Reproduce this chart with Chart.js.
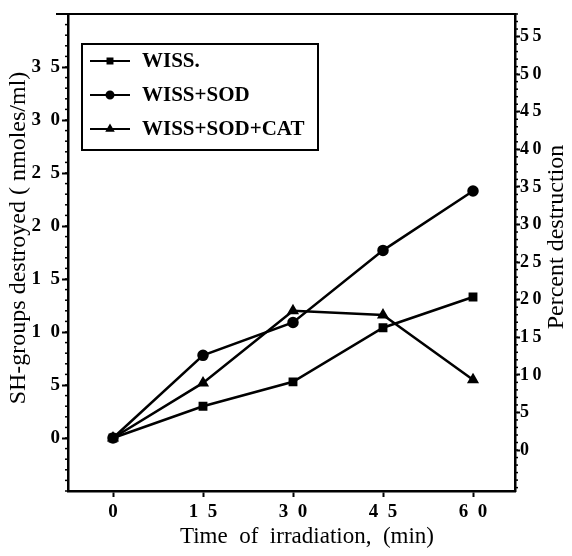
<!DOCTYPE html>
<html>
<head>
<meta charset="utf-8">
<script src="https://cdn.jsdelivr.net/npm/chart.js@4.4.1/dist/chart.umd.min.js"></script>
<style>
  html, body { margin: 0; padding: 0; background: #fff; }
  #wrap { width: 572px; height: 556px; }
</style>
</head>
<body>
<div id="wrap"><canvas id="shChart" width="572" height="556"></canvas></div>
<script>
const times = [0, 15, 30, 45, 60];
const wiss = [0, 3.0, 5.3, 10.4, 13.3];
const wissSod = [0, 7.8, 10.9, 17.7, 23.3];
const wissSodCat = [0, 5.2, 12.0, 11.6, 5.5];

const leftTicks = [0, 5, 10, 15, 20, 25, 30, 35];
const rightTicks = [0, 5, 10, 15, 20, 25, 30, 35, 40, 45, 50, 55];

const xTitle = "Time  of  irradiation,  (min)";
const leftTitle = "SH-groups destroyed ( nmoles/ml)";
const rightTitle = "Percent destruction";

const serif = "'Liberation Serif', 'DejaVu Serif', serif";

function spaced(v, gap) {
  return String(v).split("").join(gap);
}

function toPoints(arr) {
  return arr.map((v, i) => ({ x: times[i], y: v }));
}

// frame around plot, minor ticks and the axis titles
const framePlugin = {
  id: "frame",
  afterDraw(chart) {
    const ctx = chart.ctx;
    const a = chart.chartArea;
    ctx.save();
    ctx.strokeStyle = "#000";
    ctx.lineWidth = 2;
    ctx.beginPath();
    ctx.moveTo(a.left - 12, a.top);
    ctx.lineTo(a.right, a.top);
    ctx.stroke();

    ctx.lineWidth = 1.5;
    const y = chart.scales.y;
    for (let v = -5; v <= 40; v++) {
      const py = y.getPixelForValue(v);
      ctx.beginPath();
      ctx.moveTo(a.left, py);
      ctx.lineTo(a.left - 3, py);
      ctx.stroke();
    }
    const y2 = chart.scales.y2;
    for (let v = -5; v <= 58; v++) {
      const py = y2.getPixelForValue(v);
      ctx.beginPath();
      ctx.moveTo(a.right, py);
      ctx.lineTo(a.right + 3, py);
      ctx.stroke();
    }

    ctx.fillStyle = "#000";
    ctx.textAlign = "center";
    ctx.textBaseline = "middle";
    ctx.font = "23px " + serif;
    ctx.fillText(xTitle, 307, 537);

    // both vertical titles read bottom to top
    ctx.font = "24px " + serif;
    ctx.translate(19, 238);
    ctx.rotate(-Math.PI / 2);
    ctx.fillText(leftTitle, 0, 0);
    ctx.setTransform(1, 0, 0, 1, 0, 0);
    ctx.translate(557, 237);
    ctx.rotate(-Math.PI / 2);
    ctx.fillText(rightTitle, 0, 0);
    ctx.restore();
  },
};

// boxed legend inside the plot area
const boxLegend = {
  id: "boxLegend",
  afterDraw(chart) {
    const ctx = chart.ctx;
    const a = chart.chartArea;
    const bx = a.left + 14, by = a.top + 30, bw = 236, bh = 106;
    ctx.save();
    ctx.strokeStyle = "#000";
    ctx.lineWidth = 2;
    ctx.strokeRect(bx, by, bw, bh);
    chart.data.datasets.forEach((ds, i) => {
      const cy = by + 17 + i * 34;
      ctx.lineWidth = 2;
      ctx.beginPath();
      ctx.moveTo(bx + 8, cy);
      ctx.lineTo(bx + 48, cy);
      ctx.stroke();
      Chart.helpers.drawPoint(ctx, {
        pointStyle: ds.pointStyle,
        radius: ds.pointRadius - 1,
        rotation: 0,
        borderWidth: 1,
      }, bx + 28, cy);
      ctx.fillStyle = "#000";
      ctx.fill();
      ctx.font = "bold 21px " + serif;
      ctx.textBaseline = "middle";
      ctx.fillText(ds.label, bx + 60, cy + 1);
    });
    ctx.restore();
  },
};

const ctx = document.getElementById("shChart").getContext("2d");

const lineStyle = {
  borderColor: "#000",
  backgroundColor: "#000",
  pointBackgroundColor: "#000",
  pointBorderColor: "#000",
  borderWidth: 2.5,
  fill: false,
  tension: 0,
  yAxisID: "y",
};

const shChart = new Chart(ctx, {
  type: "line",
  data: {
    datasets: [
      Object.assign({}, lineStyle, {
        label: "WISS.",
        data: toPoints(wiss),
        pointStyle: "rect",
        pointRadius: 4.5,
        order: 0,
      }),
      Object.assign({}, lineStyle, {
        label: "WISS+SOD",
        data: toPoints(wissSod),
        pointStyle: "circle",
        pointRadius: 4.5,
        order: 1,
      }),
      Object.assign({}, lineStyle, {
        label: "WISS+SOD+CAT",
        data: toPoints(wissSodCat),
        pointStyle: "triangle",
        pointRadius: 4.5,
        order: 2,
      }),
    ],
  },
  options: {
    responsive: false,
    animation: false,
    layout: { padding: { top: 14, left: 0, right: 0, bottom: 0 } },
    plugins: {
      legend: { display: false },
      tooltip: { enabled: false },
    },
    scales: {
      x: {
        type: "linear",
        min: -7.5,
        max: 67,
        afterBuildTicks: (s) => { s.ticks = times.map((v) => ({ value: v })); },
        afterFit: (s) => { s.height = 65; },
        grid: { drawOnChartArea: false, tickLength: 6, tickColor: "#000", tickWidth: 2 },
        border: { display: true, color: "#000", width: 2.5 },
        ticks: {
          color: "#000",
          padding: 4,
          maxRotation: 0,
          font: { family: serif, size: 19, weight: "bold" },
          callback: (v) => spaced(v, "\u2002"),
        },
      },
      y: {
        position: "left",
        min: -5,
        max: 40,
        afterBuildTicks: (s) => { s.ticks = leftTicks.map((v) => ({ value: v })); },
        afterFit: (s) => { s.width = 68; },
        grid: { drawOnChartArea: false, tickLength: 6, tickColor: "#000", tickWidth: 2 },
        border: { display: true, color: "#000", width: 2.5 },
        ticks: {
          color: "#000",
          padding: 2,
          font: { family: serif, size: 19, weight: "bold" },
          callback: (v) => spaced(v, "\u2002"),
        },
      },
      y2: {
        position: "right",
        display: true,
        min: -5.45,
        max: 58,
        afterBuildTicks: (s) => { s.ticks = rightTicks.map((v) => ({ value: v })); },
        afterFit: (s) => { s.width = 57; },
        grid: { drawOnChartArea: false, tickLength: 5, tickColor: "#000", tickWidth: 2 },
        border: { display: true, color: "#000", width: 2.5 },
        ticks: {
          color: "#000",
          padding: 0,
          font: { family: serif, size: 18, weight: "bold" },
          callback: (v) => spaced(v, "\u2009"),
        },
      },
    },
  },
  plugins: [framePlugin, boxLegend],
});
</script>
</body>
</html>
